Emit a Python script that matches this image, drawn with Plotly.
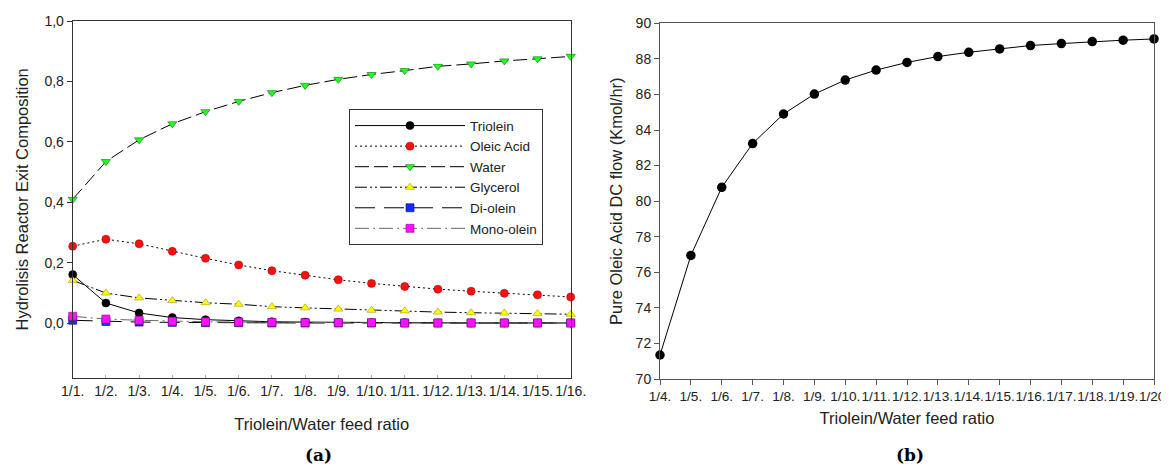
import plotly.graph_objects as go

# ---------------- data ----------------
ratio_a = ["1/%d." % i for i in range(1, 17)]
triolein = [0.161, 0.067, 0.034, 0.019, 0.012, 0.008, 0.005, 0.004, 0.003, 0.002, 0.002, 0.001, 0.001, 0.001, 0.001, 0.001]
oleic = [0.255, 0.278, 0.263, 0.238, 0.215, 0.193, 0.174, 0.159, 0.144, 0.132, 0.122, 0.113, 0.106, 0.099, 0.094, 0.087]
water = [0.410, 0.535, 0.607, 0.660, 0.700, 0.734, 0.763, 0.787, 0.807, 0.823, 0.836, 0.850, 0.858, 0.868, 0.875, 0.883]
glycerol = [0.142, 0.100, 0.084, 0.075, 0.068, 0.063, 0.055, 0.051, 0.047, 0.043, 0.041, 0.037, 0.035, 0.034, 0.032, 0.030]
diolein = [0.010, 0.006, 0.004, 0.003, 0.002, 0.002, 0.001, 0.001, 0.001, 0.001, 0.001, 0.001, 0.001, 0.001, 0.001, 0.001]
monoolein = [0.023, 0.014, 0.010, 0.007, 0.005, 0.004, 0.003, 0.002, 0.002, 0.002, 0.001, 0.001, 0.001, 0.001, 0.001, 0.001]

ratio_b = ["1/%d." % i for i in range(4, 21)]
oleic_dc = [71.35, 76.95, 80.78, 83.24, 84.90, 86.02, 86.81, 87.37, 87.80, 88.13, 88.37, 88.56, 88.75, 88.86, 88.97, 89.05, 89.12]

ytick_a = [0.0, 0.2, 0.4, 0.6, 0.8, 1.0]
ytick_b = [70, 72, 74, 76, 78, 80, 82, 84, 86, 88, 90]

# page body has an 8px default margin; size the figure so page coords match
OFF = 8
W, H = 1169 - OFF, 474 - OFF
FONT = "Liberation Sans, Arial, sans-serif"

def px_x(p):
    return (p - OFF) / W

def px_y(p):
    return 1 - (p - OFF) / H

fig = go.Figure()

series = [
    ("Triolein", triolein, "black", "solid", "circle", "black", "black"),
    ("Oleic Acid", oleic, "black", "2px,3px", "circle", "#ff1010", "#aa0000"),
    ("Water", water, "black", "14px,5px", "triangle-down", "#22ff22", "#007700"),
    ("Glycerol", glycerol, "black", "12px,3px,2px,3px,2px,3px", "triangle-up", "#ffff00", "#999900"),
    ("Di-olein", diolein, "black", "20px,9px", "square", "#1030ff", "#000088"),
    ("Mono-olein", monoolein, "#666666", "14px,4px,2px,4px", "square", "#ff10ff", "#880088"),
]
for name, ys, lc, dash, sym, mc, ml in series:
    fig.add_trace(go.Scatter(
        x=ratio_a, y=ys, name=name, mode="lines+markers",
        line=dict(color=lc, width=1, dash=dash),
        marker=dict(symbol=sym, size=8, color=mc, line=dict(color=ml, width=0.6)),
        cliponaxis=False, xaxis="x", yaxis="y",
    ))

fig.add_trace(go.Scatter(
    x=ratio_b, y=oleic_dc, name="Pure Oleic Acid", mode="lines+markers",
    line=dict(color="black", width=1),
    marker=dict(symbol="circle", size=9.5, color="black"),
    cliponaxis=False, xaxis="x2", yaxis="y2", showlegend=False,
))

axcol_a = "#333333"
axcol_b = "#555555"
tickfont = dict(family=FONT, size=14, color="#222222")
tickfont_b = dict(family=FONT, size=13.6, color="#222222")
titlefont = dict(family=FONT, size=16.5, color="#222222")

fig.update_layout(
    width=W, height=H,
    margin=dict(l=0, r=0, t=0, b=0, autoexpand=False),
    paper_bgcolor="white", plot_bgcolor="white",
    separators=",.",
    showlegend=True,
    legend=dict(
        x=px_x(349), y=px_y(109.3), xanchor="left", yanchor="top",
        bgcolor="white", bordercolor="#333333", borderwidth=1,
        font=dict(family=FONT, size=13.5, color="#222222"),
        itemwidth=110, tracegroupgap=0,
    ),
    xaxis=dict(
        domain=[px_x(72.7), px_x(570.7)], type="category",
        range=[0, len(ratio_a) - 1], automargin=False, tickangle=0,
        showline=True, linecolor=axcol_a, linewidth=1, mirror=True,
        ticks="inside", ticklen=3, tickcolor="#aaaaaa",
        tickfont=tickfont, showgrid=False, zeroline=False,
        title=dict(text="Triolein/Water feed ratio", font=titlefont, standoff=20),
        anchor="y",
    ),
    yaxis=dict(
        domain=[px_y(377.7), px_y(21)], range=[-0.18, 1.0],
        tickvals=ytick_a, tickformat=".1f", automargin=False,
        showline=True, linecolor=axcol_a, linewidth=1, mirror=True,
        ticks="outside", ticklen=5, tickcolor=axcol_a,
        tickfont=tickfont, showgrid=False, zeroline=False,
        title=dict(text="Hydrolisis Reactor Exit Composition", font=titlefont, standoff=11),
        anchor="x",
    ),
    xaxis2=dict(
        domain=[px_x(660), px_x(1154)], type="category",
        range=[0, len(ratio_b) - 1], automargin=False, tickangle=0,
        showline=True, linecolor=axcol_b, linewidth=1, mirror=True,
        ticks="outside", ticklen=5, tickcolor=axcol_b,
        tickfont=tickfont_b, showgrid=False, zeroline=False,
        title=dict(text="Triolein/Water feed ratio", font=titlefont, standoff=9),
        anchor="y2",
    ),
    yaxis2=dict(
        domain=[px_y(379), px_y(23.3)], range=[70, 90],
        tickvals=ytick_b, automargin=False,
        showline=True, linecolor=axcol_b, linewidth=1, mirror=True,
        ticks="outside", ticklen=5, tickcolor=axcol_b,
        tickfont=tickfont, showgrid=False, zeroline=False,
        title=dict(text="Pure Oleic Acid DC flow (Kmol/hr)", font=titlefont, standoff=8),
        anchor="x2",
    ),
    annotations=[
        dict(text="<b>(a)</b>", x=px_x(318), y=px_y(455), xref="paper", yref="paper",
             xanchor="center", yanchor="middle", showarrow=False,
             font=dict(family="DejaVu Serif, serif", size=17, color="black")),
        dict(text="<b>(b)</b>", x=px_x(910), y=px_y(455), xref="paper", yref="paper",
             xanchor="center", yanchor="middle", showarrow=False,
             font=dict(family="DejaVu Serif, serif", size=17, color="black")),
    ],
)

fig.write_html("out.html")
